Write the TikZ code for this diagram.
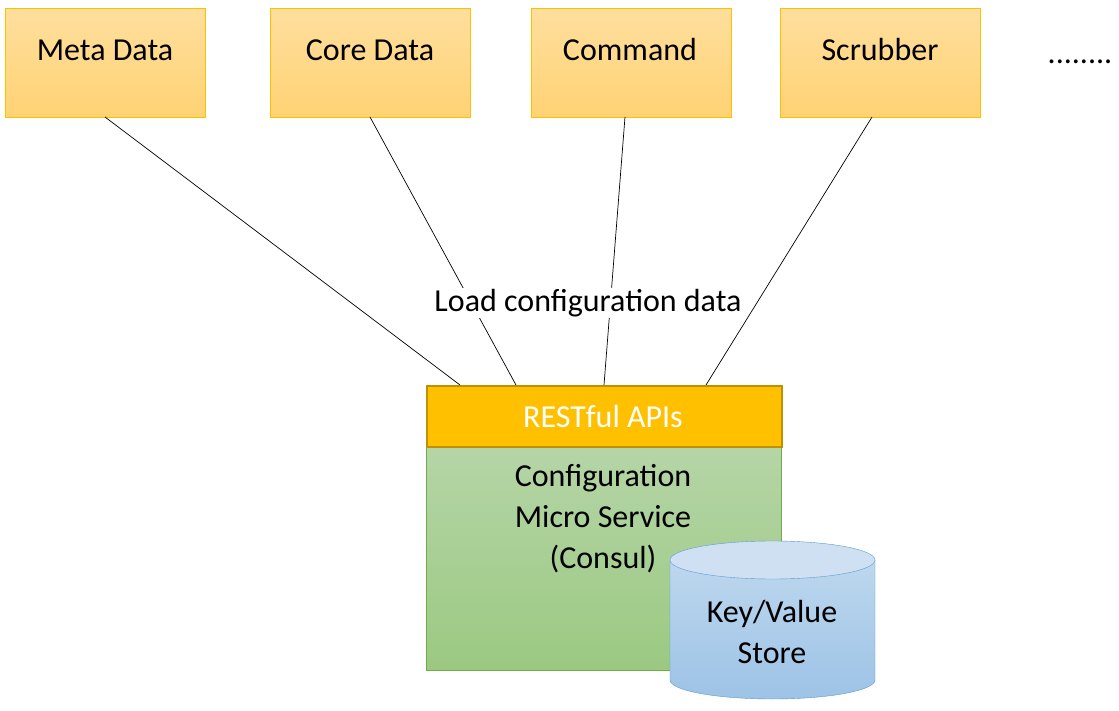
\documentclass[tikz,border=0pt]{standalone}
\usepackage{fontspec}
\setmainfont{Carlito}
\usetikzlibrary{shapes.geometric}
\definecolor{boxtop}{HTML}{FFDF9E}
\definecolor{boxbot}{HTML}{FFD274}
\definecolor{boxline}{HTML}{FFC000}
\definecolor{restfill}{HTML}{FFC000}
\definecolor{restline}{HTML}{BF9000}
\definecolor{gtop}{HTML}{B5D5A7}
\definecolor{gbot}{HTML}{9BC981}
\definecolor{gline}{HTML}{70AD47}
\definecolor{btop}{HTML}{BDD7EE}
\definecolor{bbot}{HTML}{9DC3E6}
\definecolor{bline}{HTML}{5B9BD5}
\definecolor{bcap}{HTML}{CFE0F2}
\begin{document}
\begin{tikzpicture}[x=1pt,y=-1pt,
  txt/.style={font=\fontsize{32}{41}\selectfont},
  svc/.style={draw=boxline,top color=boxtop,bottom color=boxbot,minimum width=200pt,minimum height=109pt,inner sep=0pt,anchor=north west},
  conn/.style={draw=black,line width=0.7pt}]
\useasboundingbox (0,0) rectangle (1119,711);
\node[svc] (meta) at (5,8) {};
\node[txt] at (105,50) {Meta Data};
\node[svc] (core) at (270,8) {};
\node[txt] at (370,50) {Core Data};
\node[svc] (cmd) at (531,8) {};
\node[txt] at (630,50) {Command};
\node[svc] (scr) at (780,8) {};
\node[txt] at (880,50) {Scrubber};
\node[txt] (dots) at (1080,62) {........};
\node[draw=gline,top color=gtop,bottom color=gbot,minimum width=355pt,minimum height=224pt,inner sep=0pt,anchor=north west] (cfg) at (426,446) {};
\node[txt,align=center,text=black] (cfgt) at (603,519) {Configuration\\Micro Service\\(Consul)};
\node[draw=restline,fill=restfill,line width=1.5pt,minimum width=355pt,minimum height=61pt,inner sep=0pt,anchor=north west] (rest) at (426,385) {};
\node[txt,text=white] at (603,417) {RESTful APIs};
\path[draw=bline,top color=btop,bottom color=bbot] (670,560) -- (670,680) arc[x radius=102.5,y radius=19,start angle=180,end angle=0] -- (875,560) -- cycle;
\draw[bline,fill=bcap] (772.5,560) ellipse[x radius=102.5,y radius=19];
\node[txt,align=center] (kv) at (772,632) {Key/Value\\Store};
\coordinate (r1) at (460,385);
\coordinate (r2) at (516,385);
\coordinate (r3) at (604,385);
\coordinate (r4) at (706,385);
\draw[conn] (105,117) -- (r1);
\draw[conn] (370,117) -- (r2);
\draw[conn] (625,117) -- (r3);
\draw[conn] (872,117) -- (r4);
\node[txt,fill=white,inner sep=1pt] (lbl) at (588,303) {Load configuration data};
\end{tikzpicture}
\end{document}
